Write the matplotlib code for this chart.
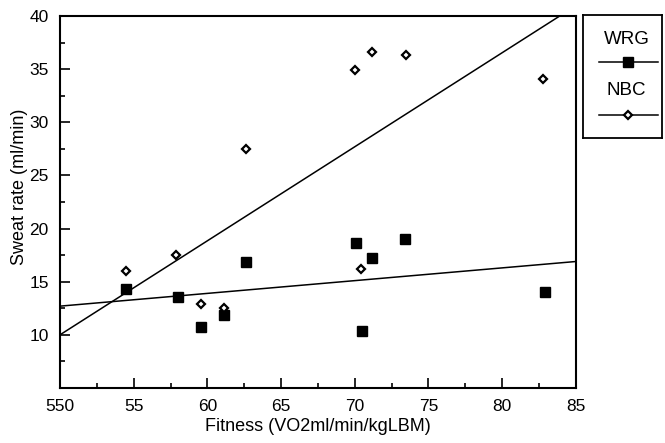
import matplotlib
matplotlib.use("Agg")
import matplotlib.pyplot as plt
from matplotlib.ticker import MultipleLocator, FixedLocator, FixedFormatter
import numpy as np

# === DADOS ===
wrg_x = [54.5, 58.0, 59.6, 61.1, 62.6, 70.1, 71.2, 70.5, 73.4, 82.9]
wrg_y = [14.3, 13.6, 10.7, 11.9, 16.9, 18.6, 17.2, 10.4, 19.0, 14.0]

nbc_x = [54.5, 57.9, 59.6, 61.1, 62.6, 70.4, 70.0, 71.2, 73.5, 82.8]
nbc_y = [16.0, 17.5, 12.9, 12.5, 27.5, 16.2, 34.9, 36.6, 36.3, 34.1]

# linhas de tendencia (x, y nas extremidades)
wrg_fit_x = [50, 85]
wrg_fit_y = [12.7, 16.9]
nbc_fit_x = [50, 85]
nbc_fit_y = [10.0, 40.97]

x_ticks = [50, 55, 60, 65, 70, 75, 80, 85]
x_labels = ["550", "55", "60", "65", "70", "75", "80", "85"]
y_ticks = [10, 15, 20, 25, 30, 35, 40]

legend_names = ["WRG", "NBC"]

plt.rcParams['font.family'] = ['Liberation Sans', 'DejaVu Sans']

fig = plt.figure(figsize=(6.65, 4.43), dpi=100)
ax = fig.add_axes([0.0902, 0.1242, 0.7758, 0.8397])

ax.plot(wrg_fit_x, wrg_fit_y, color='black', lw=1.1)
ax.plot(nbc_fit_x, nbc_fit_y, color='black', lw=1.1)

ax.plot(wrg_x, wrg_y, ls='none', marker='s', ms=7, color='black')
ax.plot(nbc_x, nbc_y, ls='none', marker='D', ms=4.5, mfc='white',
        mec='black', mew=1.6)

ax.set_xlim(50, 85)
ax.set_ylim(5, 40)
ax.xaxis.set_major_locator(FixedLocator(x_ticks))
ax.xaxis.set_major_formatter(FixedFormatter(x_labels))
ax.xaxis.set_minor_locator(MultipleLocator(2.5))
ax.yaxis.set_major_locator(FixedLocator(y_ticks))
ax.yaxis.set_minor_locator(MultipleLocator(2.5))
ax.tick_params(which='both', direction='in', labelsize=12.5, width=1.2)
ax.tick_params(which='major', length=7, pad=8)
ax.tick_params(which='minor', length=3.5)
for s in ax.spines.values():
    s.set_linewidth(1.5)

ax.set_xlabel("Fitness (VO2ml/min/kgLBM)", fontsize=13, labelpad=3)
ax.set_ylabel("Sweat rate (ml/min)", fontsize=13)
ax.yaxis.set_label_coords(-0.062, 0.54)

# === LEGENDA ===
lax = fig.add_axes([583 / 665, 1 - 138 / 443, 79 / 665, 123 / 443])
lax.set_xlim(0, 1)
lax.set_ylim(0, 1)
lax.set_xticks([])
lax.set_yticks([])
for s in lax.spines.values():
    s.set_linewidth(1.3)
lax.text(0.55, 0.80, legend_names[0], ha='center', va='center', fontsize=13.5)
lax.plot([0.2, 0.95], [0.62, 0.62], color='black', lw=1.1)
lax.plot([0.57], [0.62], marker='s', ms=7, color='black')
lax.text(0.55, 0.39, legend_names[1], ha='center', va='center', fontsize=13.5)
lax.plot([0.2, 0.95], [0.19, 0.19], color='black', lw=1.1)
lax.plot([0.57], [0.19], marker='D', ms=4.5, mfc='white', mec='black', mew=1.6)

fig.savefig("out.png", dpi=100)
